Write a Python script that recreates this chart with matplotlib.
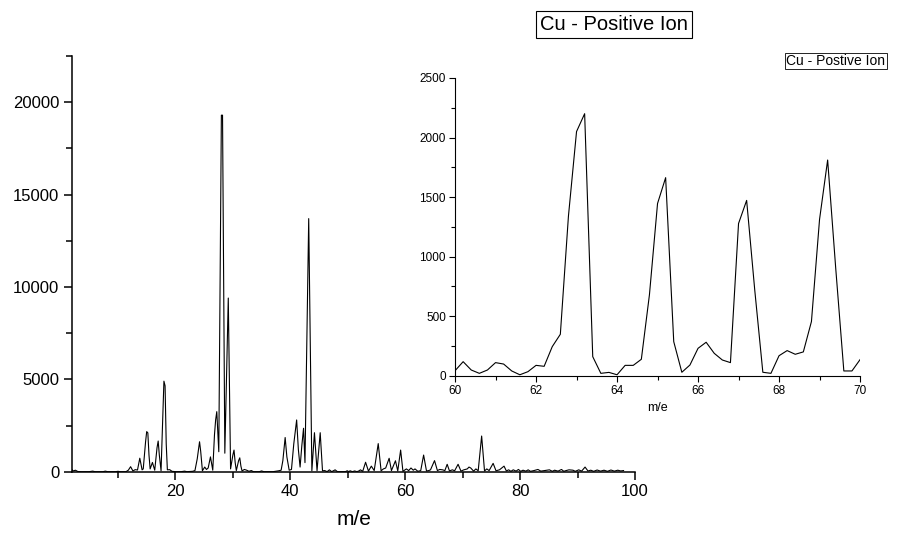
import matplotlib
matplotlib.use('Agg')
import matplotlib.pyplot as plt
from matplotlib.ticker import MultipleLocator

plt.rcParams['font.family'] = ['Liberation Sans', 'DejaVu Sans']

# full spectrum, m/e vs counts
main_mz = [2.0, 2.2, 2.6, 3.0, 3.6, 5.0, 5.6, 6.0, 7.4, 7.8, 8.2, 9.6, 10.0, 10.4,
           11.4, 11.8, 12.2, 12.6, 13.0, 13.4, 13.8, 14.2, 14.4, 14.8, 15.0, 15.2,
           15.4, 15.6, 16.0, 16.4, 16.8, 17.0, 17.2, 17.5, 17.8, 18.0, 18.2, 18.4,
           18.6, 19.0, 19.4, 20.0, 21.0, 21.6, 22.0, 23.0, 23.4, 23.8, 24.2, 24.4,
           24.7, 25.1, 25.4, 25.7, 26.1, 26.5, 26.8, 27.0, 27.2, 27.55, 28.0, 28.2,
           28.6, 29.2, 29.6, 30.0, 30.2, 30.4, 30.6, 31.0, 31.2, 31.4, 31.6, 32.0,
           32.4, 32.8, 33.2, 33.6, 34.6, 35.0, 35.4, 37.0, 37.6, 38.0, 38.4, 38.7,
           39.1, 39.4, 39.8, 40.2, 40.6, 41.1, 41.4, 41.7, 42.0, 42.3, 42.55, 43.2,
           43.75, 44.2, 44.65, 45.2, 45.6, 46.0, 46.4, 46.8, 47.2, 47.8, 48.2, 49.6,
           49.9, 50.2, 50.4, 50.8, 51.2, 51.6, 52.0, 52.2, 52.6, 53.1, 53.6, 54.1,
           54.6, 55.3, 55.8, 56.2, 56.6, 57.2, 57.6, 58.3, 58.7, 59.2, 59.6, 60.2,
           60.6, 61.0, 61.4, 61.7, 62.2, 62.7, 63.2, 63.7, 64.1, 64.4, 65.1, 65.6,
           66.0, 66.5, 66.9, 67.3, 67.7, 68.2, 68.6, 69.2, 69.7, 70.2, 70.8, 71.1,
           71.4, 71.9, 72.3, 72.7, 73.3, 73.8, 74.2, 74.6, 75.3, 75.8, 76.4, 77.2,
           77.6, 78.0, 78.4, 78.8, 79.3, 79.7, 80.1, 80.5, 81.0, 81.4, 81.8, 82.4,
           83.1, 83.6, 84.3, 85.1, 85.6, 86.0, 86.6, 87.2, 87.6, 88.0, 88.5, 89.2,
           89.6, 90.2, 90.7, 91.3, 91.8, 92.3, 92.8, 93.4, 94.0, 94.6, 95.2, 95.8,
           96.4, 97.0, 97.5, 98.0]
main_counts = [110, 40, 80, 10, 0, 0, 30, 0, 0, 30, 0, 0, 20, 0,
               0, 80, 270, 40, 110, 90, 730, 100, 150, 1600, 2170, 2100,
               900, 150, 500, 80, 1300, 1660, 900, 50, 3000, 4900, 4650, 1500,
               100, 110, 20, 0, 0, 30, 0, 20, 60, 700, 1620, 1100,
               50, 250, 120, 200, 800, 80, 2000, 2800, 3250, 1080, 19300, 19300,
               1000, 9400, 150, 900, 1170, 500, 60, 600, 750, 300, 40, 120,
               80, 20, 60, 0, 0, 40, 0, 0, 30, 50, 80, 600,
               1850, 800, 80, 120, 1500, 2800, 1200, 250, 1400, 2350, 490, 13700,
               50, 2110, 50, 2110, 50, 60, 0, 100, 0, 100, 0, 0,
               50, 0, 50, 0, 40, 0, 50, 100, 20, 510, 30, 300,
               60, 1520, 50, 150, 200, 725, 60, 590, 40, 1170, 20, 150,
               60, 200, 80, 150, 20, 60, 900, 40, 60, 100, 600, 60,
               120, 100, 60, 400, 40, 100, 50, 400, 30, 100, 150, 250,
               200, 30, 150, 50, 1930, 40, 150, 60, 450, 50, 100, 300,
               40, 100, 20, 100, 30, 120, 20, 80, 30, 100, 20, 60,
               120, 30, 60, 100, 20, 80, 30, 120, 20, 60, 100, 80,
               20, 100, 30, 250, 40, 80, 20, 90, 30, 80, 20, 90,
               30, 80, 40, 60]

# zoomed region 60-70, step 0.2
inset_mz = [60.0 + 0.2 * i for i in range(51)]
inset_counts = [42, 118, 48, 20, 48, 110, 98, 40, 8, 34,
                87, 79, 244, 348, 1340, 2050, 2200, 160, 20, 28,
                8, 87, 87, 138, 680, 1446, 1663, 286, 29, 90,
                230, 281, 188, 132, 110, 1278, 1472, 720, 29, 20,
                168, 211, 180, 200, 455, 1312, 1811, 900, 40, 40,
                135]

fig = plt.figure(figsize=(9, 5.34), dpi=100)

ax = fig.add_axes([0.08, 0.1167, 0.6256, 0.7783])
ax.plot(main_mz, main_counts, color='black', lw=0.8)
ax.set_xlim(2, 100)
ax.set_ylim(0, 22500)
ax.xaxis.set_major_locator(MultipleLocator(20))
ax.xaxis.set_minor_locator(MultipleLocator(10))
ax.yaxis.set_major_locator(MultipleLocator(5000))
ax.yaxis.set_minor_locator(MultipleLocator(2500))
ax.tick_params(which='both', direction='out', width=1.1, labelsize=12)
ax.tick_params(which='major', length=6, pad=3)
ax.tick_params(which='minor', length=4.5)
ax.spines['top'].set_visible(False)
ax.spines['right'].set_visible(False)
for s in ['left', 'bottom']:
    ax.spines[s].set_linewidth(1.1)
ax.set_xlabel('m/e', fontsize=15, labelpad=8)

fig.text(0.682, 0.954, 'Cu - Positive Ion', fontsize=14.5, ha='center', va='center',
         bbox=dict(boxstyle='square,pad=0.2', fc='white', ec='black', lw=0.8))

axi = fig.add_axes([0.5056, 0.2964, 0.45, 0.5576])
axi.patch.set_alpha(0)
axi.plot(inset_mz, inset_counts, color='black', lw=0.8)
axi.set_xlim(60, 70)
axi.set_ylim(0, 2500)
axi.xaxis.set_major_locator(MultipleLocator(2))
axi.xaxis.set_minor_locator(MultipleLocator(1))
axi.yaxis.set_major_locator(MultipleLocator(500))
axi.yaxis.set_minor_locator(MultipleLocator(250))
axi.tick_params(which='both', direction='out', width=0.8, labelsize=8.5)
axi.tick_params(which='major', length=4.5, pad=2)
axi.tick_params(which='minor', length=3)
axi.spines['top'].set_visible(False)
axi.spines['right'].set_visible(False)
for s in ['left', 'bottom']:
    axi.spines[s].set_linewidth(0.8)
axi.set_xlabel('m/e', fontsize=9, labelpad=4)

fig.text(0.9285, 0.8857, 'Cu - Postive Ion', fontsize=10, ha='center', va='center',
         bbox=dict(boxstyle='square,pad=0.1', fc='white', ec='black', lw=0.6))

fig.savefig('out.png', dpi=100)
